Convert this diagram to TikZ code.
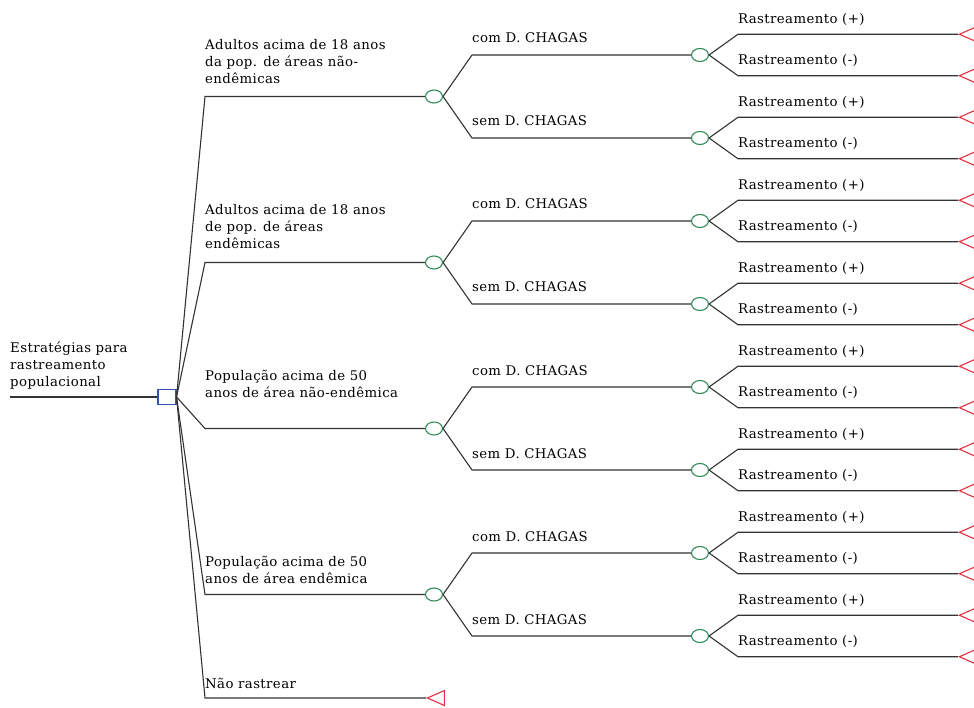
\documentclass[tikz,border=0pt]{standalone}
\usepackage{fontspec}
\setmainfont[LetterSpace=3]{DejaVu Serif}
\usetikzlibrary{shapes.geometric}

\definecolor{azuldec}{RGB}{52,84,170}
\definecolor{verdeacaso}{RGB}{46,139,87}
\definecolor{vermfim}{RGB}{226,48,64}

\tikzset{
  ramo/.style={draw=black!80, line width=1.1pt},
  decisao/.style={draw=azuldec, rectangle, line width=1.1pt, minimum width=18pt, minimum height=15pt, inner sep=0pt},
  chance/.style={draw=verdeacaso, ellipse, line width=1.1pt, minimum width=17pt, minimum height=13pt, inner sep=0pt},
  terminal/.style={draw=vermfim, isosceles triangle, shape border rotate=180, isosceles triangle stretches, line width=1.1pt, minimum width=15pt, minimum height=17pt, inner sep=0pt, anchor=apex},
  rotulo/.style={anchor=base west, inner sep=0pt, align=left, font=\fontsize{13.3}{17}\selectfont}
}

\begin{document}
\begin{tikzpicture}[x=1pt, y=-1pt]
    \useasboundingbox (0,0) rectangle (974,708);

    % raiz e no de decisao
    \coordinate (raiz) at (10,397);
    \node[decisao] (d) at (167,397) {};
    \draw[ramo] (raiz) -- (d.west);
    \node[rotulo] (traiz) at (10,386) {Estratégias para\\rastreamento\\populacional};

    % estrategias
    \foreach \i/\yb/\txt in {
        1/84/{Adultos acima de 18 anos\\da pop. de áreas não-\\endêmicas},
        2/249/{Adultos acima de 18 anos\\de pop. de áreas\\endêmicas},
        3/397/{População acima de 50\\anos de área não-endêmica},
        4/583/{População acima de 50\\anos de área endêmica}} {
        \pgfmathsetmacro\yA{96.5+166*(\i-1)}
        \coordinate (p\i) at (205,\yA);
        \node[chance] (c\i) at (434,\yA) {};
        \draw[ramo] (d.east) -- (p\i) -- (c\i.west);
        \node[rotulo] (t\i) at (205,\yb) {\txt};

        % com / sem D. CHAGAS
        \foreach \j/\sj/\tj in {1/-1/com D. CHAGAS, 2/1/sem D. CHAGAS} {
            \pgfmathsetmacro\yB{\yA+41.5*\sj}
            \coordinate (q\i\j) at (472,\yB);
            \node[chance] (c\i\j) at (700,\yB) {};
            \draw[ramo] (c\i.east) -- (q\i\j) -- (c\i\j.west);
            \node[rotulo] (t\i\j) at (472,\yB-12) {\tj};

            % rastreamento
            \foreach \k/\sk/\tk in {1/-1/Rastreamento (+), 2/1/Rastreamento (-)} {
                \pgfmathsetmacro\yC{\yB+20.75*\sk}
                \coordinate (r\i\j\k) at (738,\yC);
                \node[terminal] (f\i\j\k) at (958,\yC) {};
                \draw[ramo] (c\i\j.east) -- (r\i\j\k) -- (f\i\j\k.apex);
                \node[rotulo] (t\i\j\k) at (738,\yC-11) {\tk};
            }
        }
    }

    % nao rastrear
    \coordinate (p5) at (205,698);
    \node[terminal] (f5) at (426,698) {};
    \draw[ramo] (d.east) -- (p5) -- (f5.apex);
    \node[rotulo] (t5) at (205,688) {Não rastrear};

\end{tikzpicture}
\end{document}
